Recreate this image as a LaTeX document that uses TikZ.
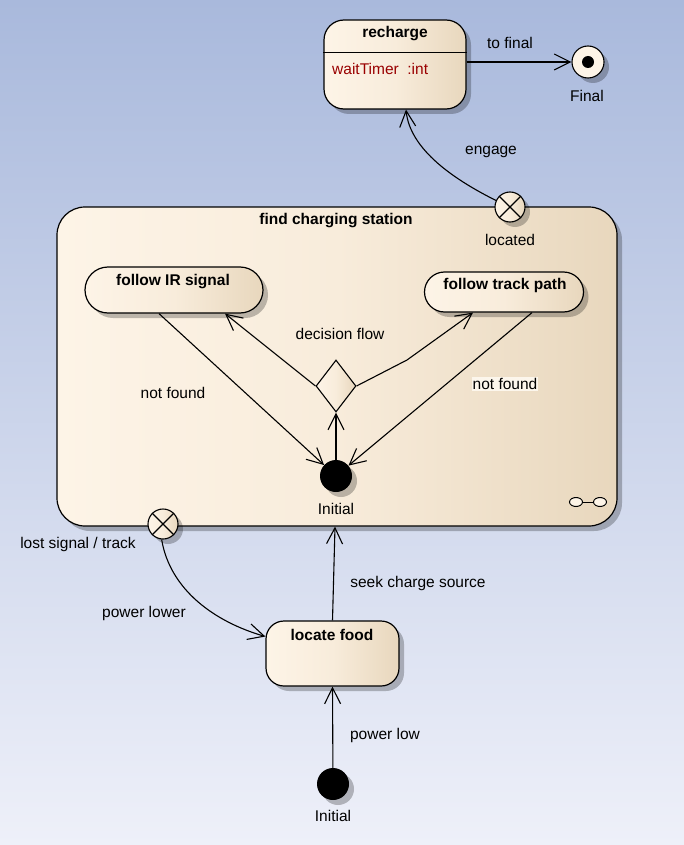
\documentclass[tikz,border=0pt]{standalone}
\usepackage{fontspec}
\setmainfont{Liberation Sans}
\usetikzlibrary{arrows.meta,shapes.geometric,shadows}
\definecolor{bgtop}{HTML}{A9B9DC}
\definecolor{bgbot}{HTML}{EEF0F9}
\definecolor{stA}{HTML}{FDF4E7}
\definecolor{stB}{HTML}{F8ECDB}
\definecolor{stC}{HTML}{E8D7BD}
\definecolor{attr}{HTML}{990000}
\definecolor{lblbg}{HTML}{FCF6EC}
\pgfdeclarehorizontalshading{stfill}{100bp}{color(0bp)=(stA); color(25bp)=(stA); color(50bp)=(stB); color(75bp)=(stC); color(100bp)=(stC)}
\begin{document}
\begin{tikzpicture}[x=1pt,y=-1pt,
  lbl/.style={font=\fontsize{15.5}{18}\selectfont, inner sep=1pt},
  ttl/.style={font=\bfseries\fontsize{15.5}{18}\selectfont, inner sep=1pt},
  shd/.style={drop shadow={shadow xshift=5pt,shadow yshift=-5pt,opacity=0.25,fill=black}},
  stbox/.style={draw, line width=1.2pt, shading=stfill, inner sep=0pt, shd},
  pseudo/.style={circle, draw, line width=1.1pt, shading=stfill, inner sep=0pt, minimum size=30pt, shd},
  initst/.style={circle, fill=black, inner sep=0pt, minimum size=32pt, shd},
  trans/.style={line width=1.1pt, -{Straight Barb[length=16pt,width=16pt,line width=1.1pt]}}]
\useasboundingbox (0,0) rectangle (684,845);
\shade[top color=bgtop, bottom color=bgbot] (0,0) rectangle (684,845);

% composite state
\node[stbox, rounded corners=28pt, minimum width=560pt, minimum height=319pt] (comp) at (337,366.5) {};
\node[ttl] (compT) at (336,221) {find charging station};
\node[ellipse, draw, line width=1pt, fill=stA, inner sep=0pt, minimum width=13pt, minimum height=9pt] (icA) at (576,502) {};
\node[ellipse, draw, line width=1pt, fill=stA, inner sep=0pt, minimum width=13pt, minimum height=9pt] (icB) at (600,502) {};
\draw[line width=1pt] (icA.east) -- (icB.west);

% recharge
\node[stbox, rounded corners=20pt, minimum width=142pt, minimum height=89pt] (rech) at (395,64.5) {};
\draw[line width=1.1pt] ([yshift=-33pt]rech.north west) -- ([yshift=-33pt]rech.north east);
\node[ttl] (rechT) at (395,34) {recharge};
\node[lbl, anchor=west, text=attr] (rechA) at (331,69) {waitTimer\ \ :int};

% final
\node[circle, draw, line width=1.1pt, fill=stA, inner sep=0pt, minimum size=32pt, shd] (fin) at (588,62) {};
\node[circle, fill=black, inner sep=0pt, minimum size=12pt] (finDot) at (fin.center) {};
\node[lbl] (finL) at (587,96) {Final};
\draw[trans] (rech.east |- fin.center) -- (fin.west);
\node[lbl] (toFinL) at (510,43) {to final};

% located exit point
\node[pseudo] (loc) at (510,207) {};
\draw[line width=1.1pt] (loc.north west) -- (loc.south east) (loc.north east) -- (loc.south west);
\node[lbl] (locL) at (510,240) {located};
\draw[trans] (loc.155) .. controls (455,180) and (410,150) .. ([xshift=11pt]rech.south);
\node[lbl] (engL) at (491,152) {engage};

% inner states
\node[stbox, rounded corners=23pt, minimum width=178pt, minimum height=46pt] (irs) at (174,290) {};
\node[ttl] (irsT) at (173,282) {follow IR signal};
\node[stbox, rounded corners=20pt, minimum width=159pt, minimum height=40pt] (trk) at (504,292) {};
\node[ttl] (trkT) at (505,285) {follow track path};

\node[diamond, draw, line width=1.1pt, shading=stfill, inner sep=0pt, minimum width=40pt, minimum height=52pt] (dec) at (336,386) {};
\node[initst] (ini1) at (336,476) {};
\node[lbl] (ini1L) at (336,509) {Initial};

\draw[trans] (ini1) -- (dec.south);
\draw[trans] (dec.west) -- ([xshift=51pt]irs.south);
\coordinate (bend1) at (407,360);
\draw[trans] (dec.east) -- (bend1) -- ([xshift=-31pt]trk.south);
\draw[trans] ([xshift=-15pt]irs.south) -- (ini1);
\draw[trans] ([xshift=28pt]trk.south) -- (ini1);
\node[lbl] (decL) at (340,334) {decision flow};
\node[lbl] (nf1) at (173,393) {not found};
\node[lbl, fill=lblbg] (nf2) at (505,384) {not found};

% lost signal exit point
\node[pseudo] (lost) at (163,524) {};
\draw[line width=1.1pt] (lost.north west) -- (lost.south east) (lost.north east) -- (lost.south west);
\node[lbl] (lostL) at (78,544) {lost signal / track};

% locate food
\node[stbox, rounded corners=18pt, minimum width=133pt, minimum height=65pt] (locf) at (332.5,653.5) {};
\node[ttl] (locfT) at (332,635) {locate food};
\draw[trans] (lost.265) .. controls (170,590) and (215,622) .. ([yshift=17pt]locf.west);
\node[lbl] (pwL) at (144,613) {power lower};
\draw[trans] (locf.north) -- ([xshift=-2pt]comp.south);
\node[lbl] (seekL) at (418,583) {seek charge source};

% bottom initial
\node[initst] (ini2) at (333,784) {};
\node[lbl] (ini2L) at (333,816) {Initial};
\draw[trans] (ini2) -- (locf.south);
\node[lbl] (plL) at (385,735) {power low};
\end{tikzpicture}
\end{document}
